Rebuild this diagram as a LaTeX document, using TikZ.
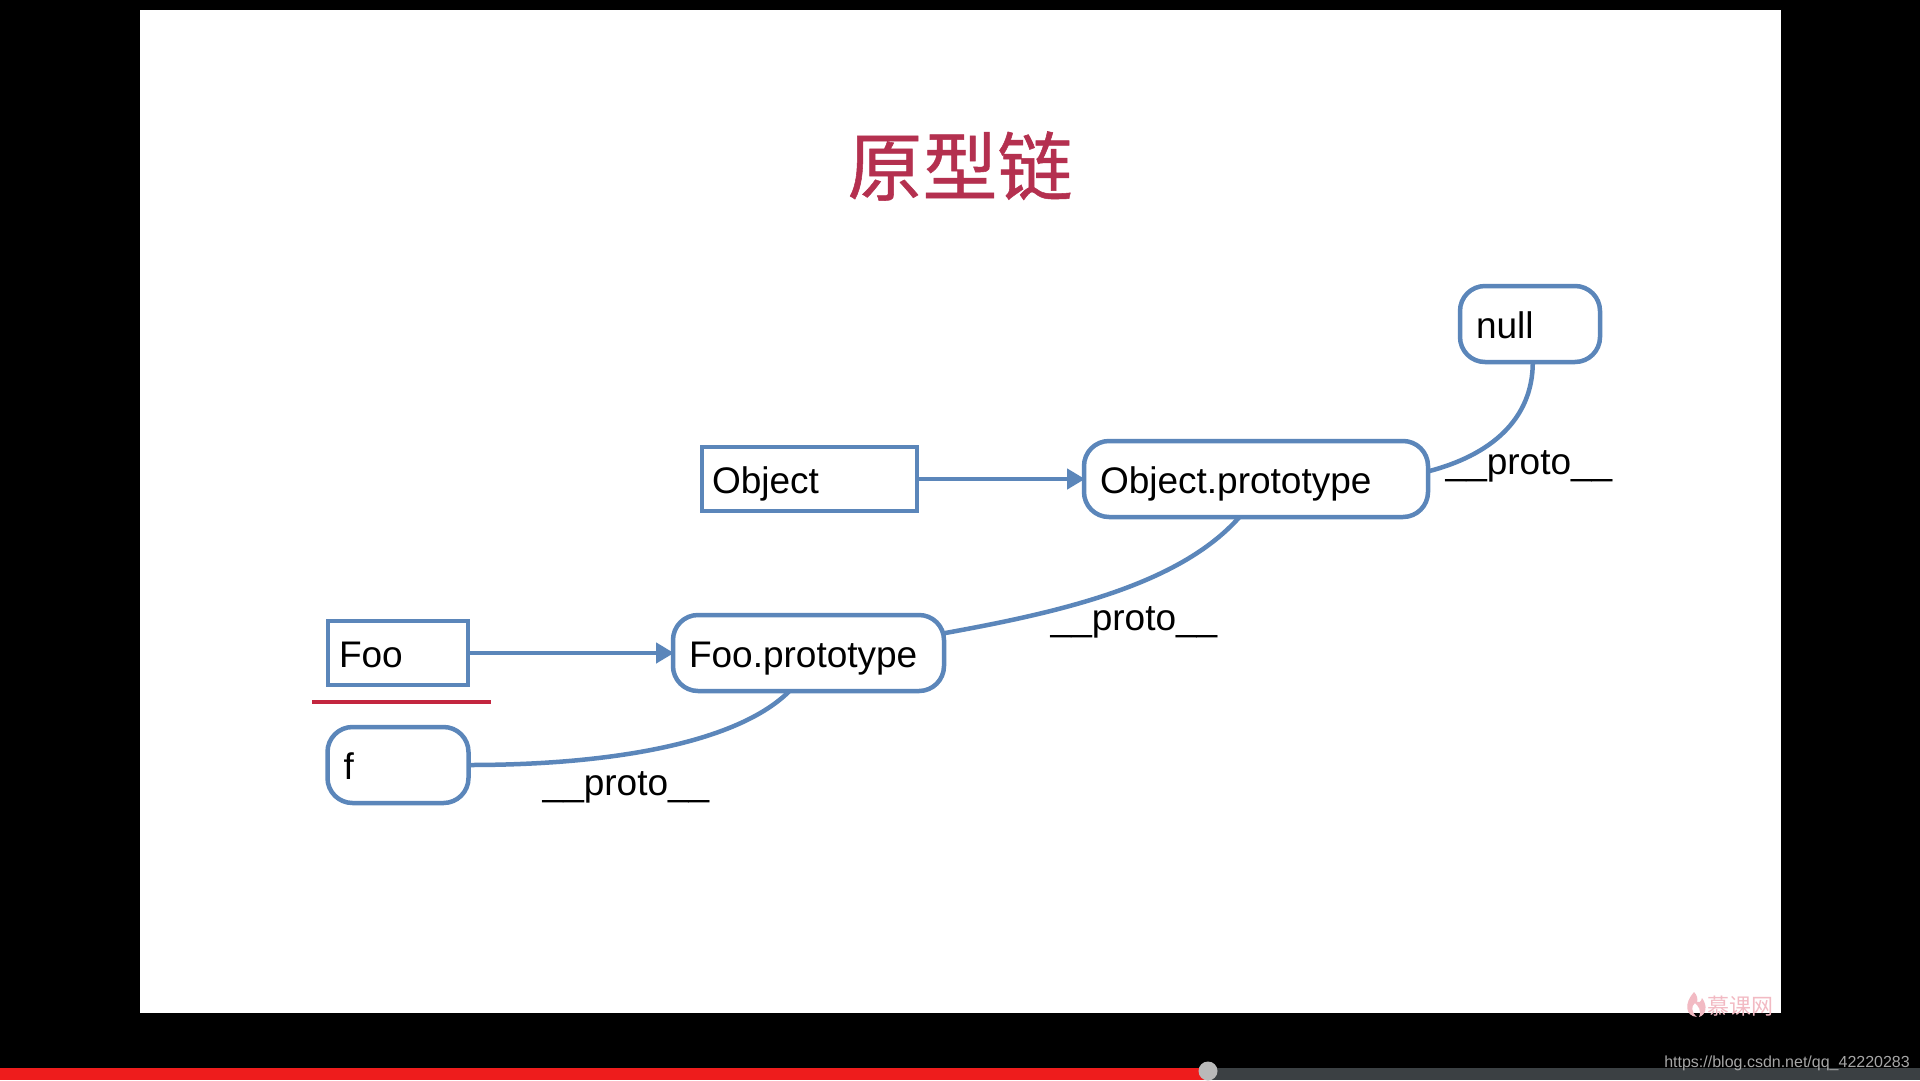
\documentclass[tikz,border=0pt]{standalone}
\usepackage{fontspec}
\setmainfont{Liberation Sans}
\newfontfamily\cjkface{Noto Sans CJK SC}
\newfontfamily\cjkheavy[FakeBold=0.7]{Noto Sans CJK SC}
\usetikzlibrary{arrows.meta,calc}
\definecolor{slideblue}{HTML}{5B86BA}
\definecolor{slidered}{HTML}{B4304F}
\definecolor{markpink}{HTML}{F2BAC3}
\definecolor{barred}{HTML}{EE1C1C}
\definecolor{bargrey}{HTML}{3B4043}
\tikzset{
  x=1pt, y=-1pt,
  boxbase/.style 2 args={draw=slideblue, line width=4.5pt, fill=white, outer sep=0pt,
    text width={#1pt-2*#2pt}, inner xsep=#2pt, inner ysep=0pt, align=left,
    text height=34pt, text depth=5pt,
    minimum height=70pt, font=\fontsize{37}{40}\selectfont, text=black},
  sharpbox/.style 2 args={boxbase={#1}{#2}},
  softbox/.style 2 args={boxbase={#1}{#2}, rounded corners=25pt, minimum height=76pt},
  link/.style={draw=slideblue, line width=4.5pt},
  arrowlink/.style={link, -{Triangle[length=18pt,width=20pt]}, shorten >=-1pt},
  protolabel/.style={anchor=base, inner sep=0pt, font=\fontsize{37}{40}\selectfont, text=black}
}
\begin{document}
\begin{tikzpicture}
  \useasboundingbox (0,0) rectangle (1920,1080);
  % screen background and slide area
  \fill[black] (0,0) rectangle (1920,1080);
  \fill[white] (140,10) rectangle (1781,1013);

  % title
  \node[inner sep=0pt, text=slidered, font=\cjkheavy\fontsize{75}{80}\selectfont] (title) at (960,166) {原型链};

  % boxes
  \node[sharpbox={140}{11}, minimum height=64pt] (foo) at (398,653) {Foo};
  \node[softbox={271}{16}] (fooproto) at (808.5,653) {Foo.prototype};
  \node[softbox={141}{16}] (finst) at (398,765) {f};
  \node[sharpbox={215}{10}, minimum height=64pt] (object) at (809.5,479) {Object};
  \node[softbox={344}{16}] (objproto) at (1256,479) {Object.prototype};
  \node[softbox={140}{16}] (nullbox) at (1530,324) {null};

  % straight arrows
  \draw[arrowlink] (foo.east) -- (fooproto.west);
  \draw[arrowlink] (object.east) -- (objproto.west);

  % __proto__ curves
  \draw[link] (finst.east) .. controls +(150,0) and +(-50,50)
    .. ($(fooproto.south west)!0.43!(fooproto.south east)$);
  \draw[link] ($(fooproto.north east)!0.24!(fooproto.south east)$) .. controls +(116,-21) and +(-60,68)
    .. ($(objproto.south west)!0.452!(objproto.south east)$);
  \draw[link] ($(objproto.north east)!0.4!(objproto.south east)$) .. controls +(62,-16) and +(0,58)
    .. ($(nullbox.south west)!0.52!(nullbox.south east)$);

  % curve labels
  \node[protolabel] (protoa) at (626,795) {\_\_proto\_\_};
  \node[protolabel] (protob) at (1134,630) {\_\_proto\_\_};
  \node[protolabel] (protoc) at (1529,474) {\_\_proto\_\_};

  % red separator under Foo
  \coordinate (sepleft) at (312,702);
  \coordinate (sepright) at (491,702);
  \draw[draw=slidered!80!red, line width=3.5pt] (sepleft) -- (sepright);

  % watermark
  \fill[markpink] (1694,992) .. controls (1684,1003) and (1685,1016) .. (1697,1017)
    .. controls (1691,1012) and (1691,1006) .. (1695,1003)
    .. controls (1698,1006) and (1702,1010) .. (1699,1017)
    .. controls (1706,1015) and (1708,1006) .. (1702,998) .. controls (1701,1002) and (1699,1003) .. (1697,1002)
    .. controls (1698,999) and (1697,995) .. (1694,992) -- cycle;
  \node[inner sep=0pt, text=markpink, font=\cjkface\fontsize{22}{24}\selectfont] (mark) at (1740,1006) {慕课网};

  % player bar
  \fill[bargrey] (1207,1068) rectangle (1920,1080);
  \fill[barred] (0,1068) rectangle (1207,1080);
  \fill[gray!55] (1208,1071) circle (9.5);

  % address line
  \node[inner sep=0pt, anchor=base east, text=black!35, font=\fontsize{16}{18}\selectfont] (addr) at (1910,1067) {https://blog.csdn.net/qq\_42220283};
\end{tikzpicture}
\end{document}
